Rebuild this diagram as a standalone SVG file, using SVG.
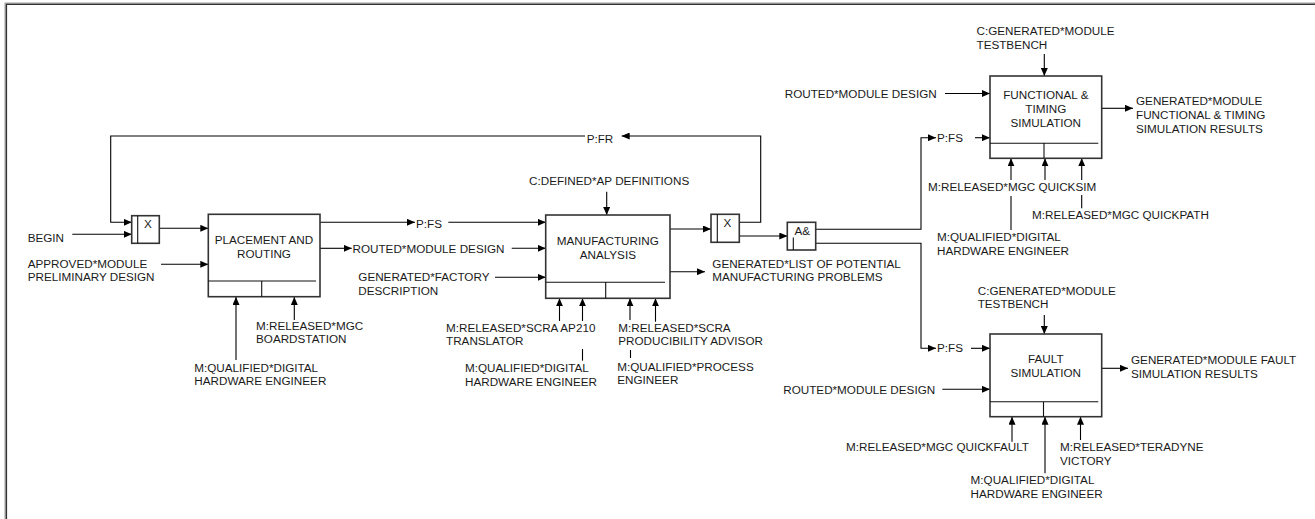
<svg xmlns="http://www.w3.org/2000/svg" width="1315" height="519" viewBox="0 0 1315 519">
<defs>
<marker id="ah" markerWidth="8" markerHeight="7" refX="8" refY="3.5" orient="auto" markerUnits="userSpaceOnUse">
<path d="M0,0 L8,3.5 L0,7 z" fill="#000"/>
</marker>
<style>
text{font-family:"Liberation Sans",Arial,sans-serif;font-size:11.7px;fill:#1a1a1a}
.c{text-anchor:middle}
.box{fill:#fff;stroke:#333;stroke-width:1.6}
.in{fill:none;stroke:#111;stroke-width:1.1}
.cn{fill:none;stroke:#000;stroke-width:1.1}
.ar{marker-end:url(#ah)}
</style>
</defs>
<rect width="1315" height="519" fill="#fff"/>
<g id="frame">
<path d="M4.8,519 V2.8 H1315" fill="none" stroke="#bbb" stroke-width="1"/>
<path d="M6.3,519 V4.3 H1315" fill="none" stroke="#333" stroke-width="1.6"/>
</g>

<g id="connectors">
<path class="cn ar" d="M739.3,222.3 H760.7 V136 H621.7"/>
<path class="cn ar" d="M585,136 H110.7 V222.3 H131.7"/>
<path class="cn ar" d="M72.3,234.3 H131.7"/>
<path class="cn ar" d="M159.3,228.3 H208.3"/>
<path class="cn ar" d="M161,264.3 H208.3"/>
<path class="cn ar" d="M236,360 V297"/>
<path class="cn ar" d="M294.3,320 V297"/>
<path class="cn ar" d="M320,222.3 H415"/>
<path class="cn ar" d="M448.3,222.3 H545.7"/>
<path class="cn ar" d="M320,248.3 H351.7"/>
<path class="cn ar" d="M511.7,248.3 H545.7"/>
<path class="cn ar" d="M495,277.3 H545.7"/>
<path class="cn ar" d="M606.7,191.7 V215"/>
<path class="cn ar" d="M559.5,321 V298.3"/>
<path class="cn ar" d="M582.5,321 V298.3"/>
<path class="cn" d="M582.5,349 V360.7"/>
<path class="cn ar" d="M630,320 V298.3"/>
<path class="cn" d="M630.5,350 V358"/>
<path class="cn ar" d="M655.5,321.7 V298.3"/>
<path class="cn ar" d="M670,229 H711"/>
<path class="cn ar" d="M670,271.7 H705"/>
<path class="cn ar" d="M739.3,236 H787.3"/>
<path class="cn ar" d="M815.7,229.3 H921 V137.7 H936"/>
<path class="cn ar" d="M975,137.7 H990"/>
<path class="cn ar" d="M815.7,243.3 H921 V348.3 H936"/>
<path class="cn ar" d="M971,348.3 H990"/>
<path class="cn ar" d="M945,93.5 H990"/>
<path class="cn ar" d="M1044.3,54 V76"/>
<path class="cn ar" d="M1101.7,108.3 H1133"/>
<path class="cn ar" d="M1011,180 V158.3"/>
<path class="cn" d="M1011,196 V230"/>
<path class="cn ar" d="M1045,180 V158.3"/>
<path class="cn ar" d="M1081.7,180 V158.3"/>
<path class="cn" d="M1081.7,195 V208.3"/>
<path class="cn ar" d="M1044.3,315 V334"/>
<path class="cn ar" d="M942.3,389.3 H990"/>
<path class="cn ar" d="M1101.7,368.3 H1128"/>
<path class="cn ar" d="M1012,441.7 V416.7"/>
<path class="cn ar" d="M1045,473.3 V416.7"/>
<path class="cn ar" d="M1080.5,440 V416.7"/>
</g>

<g id="junction-x1">
<rect class="box" x="131.7" y="215.7" width="27.6" height="27.6"/>
<path class="in" d="M137.7,215.7 V243.3"/>
<text class="c" x="148" y="227.5">X</text>
</g>

<g id="node-placement">
<rect class="box" x="208.3" y="214.3" width="111.7" height="82.4"/>
<path class="in" d="M208.3,281 H316 M261.7,281 V296.7"/>
<text class="c" x="264" y="244">PLACEMENT AND</text>
<text class="c" x="264" y="258">ROUTING</text>
</g>

<g id="node-manufacturing">
<rect class="box" x="545.7" y="215" width="124.3" height="83.3"/>
<path class="in" d="M545.7,282.3 H665 M605.7,282.3 V298.3"/>
<text class="c" x="607.8" y="244.5">MANUFACTURING</text>
<text class="c" x="607.8" y="258.5">ANALYSIS</text>
</g>

<g id="junction-x2">
<rect class="box" x="711" y="214.3" width="28.3" height="28"/>
<path class="in" d="M717.3,214.3 V242.3"/>
<text class="c" x="727.5" y="227">X</text>
</g>

<g id="junction-and">
<rect class="box" x="787.3" y="222.3" width="28.4" height="27.7"/>
<path class="in" d="M793.3,237.5 V250"/>
<text x="794.5" y="235">A&amp;</text>
</g>

<g id="node-functional">
<rect class="box" x="990" y="76" width="111.7" height="82.3"/>
<path class="in" d="M990,143.3 H1098.3 M1044,143.3 V158.3"/>
<text class="c" x="1045.8" y="98.5">FUNCTIONAL &amp;</text>
<text class="c" x="1045.8" y="112.5">TIMING</text>
<text class="c" x="1045.8" y="126.5">SIMULATION</text>
</g>

<g id="node-fault">
<rect class="box" x="990" y="334" width="111.7" height="82.7"/>
<path class="in" d="M990,401.7 H1098.3 M1043.5,401.7 V416.7"/>
<text class="c" x="1045.8" y="363">FAULT</text>
<text class="c" x="1045.8" y="377">SIMULATION</text>
</g>

<g id="labels">
<text x="27.7" y="241.5">BEGIN</text>
<text x="27.7" y="267.5">APPROVED*MODULE</text>
<text x="27.7" y="280.5">PRELIMINARY DESIGN</text>
<text x="256" y="330">M:RELEASED*MGC</text>
<text x="256" y="343">BOARDSTATION</text>
<text x="194.3" y="371.5">M:QUALIFIED*DIGITAL</text>
<text x="194.3" y="385">HARDWARE ENGINEER</text>
<text x="416" y="228.3">P:FS</text>
<text x="352.5" y="253.3">ROUTED*MODULE DESIGN</text>
<text x="358.3" y="281">GENERATED*FACTORY</text>
<text x="358.3" y="295">DESCRIPTION</text>
<text x="529" y="185.3">C:DEFINED*AP DEFINITIONS</text>
<text x="586.7" y="142.5">P:FR</text>
<text x="446" y="331.5">M:RELEASED*SCRA AP210</text>
<text x="446" y="344.5">TRANSLATOR</text>
<text x="465" y="372">M:QUALIFIED*DIGITAL</text>
<text x="465" y="385.5">HARDWARE ENGINEER</text>
<text x="618.3" y="331.5">M:RELEASED*SCRA</text>
<text x="618.3" y="344.5">PRODUCIBILITY ADVISOR</text>
<text x="617.3" y="370.5">M:QUALIFIED*PROCESS</text>
<text x="617.3" y="384">ENGINEER</text>
<text x="712.3" y="268">GENERATED*LIST OF POTENTIAL</text>
<text x="712.3" y="281">MANUFACTURING PROBLEMS</text>
<text x="976.5" y="35">C:GENERATED*MODULE</text>
<text x="976.5" y="49">TESTBENCH</text>
<text x="936.7" y="97.5" style="text-anchor:end">ROUTED*MODULE DESIGN</text>
<text x="937" y="142">P:FS</text>
<text x="1136" y="104.5">GENERATED*MODULE</text>
<text x="1136" y="118.5">FUNCTIONAL &amp; TIMING</text>
<text x="1136" y="132.5">SIMULATION RESULTS</text>
<text x="928" y="191">M:RELEASED*MGC QUICKSIM</text>
<text x="1032" y="219">M:RELEASED*MGC QUICKPATH</text>
<text x="937" y="241">M:QUALIFIED*DIGITAL</text>
<text x="937" y="254.5">HARDWARE ENGINEER</text>
<text x="977.7" y="294.5">C:GENERATED*MODULE</text>
<text x="977.7" y="308">TESTBENCH</text>
<text x="937" y="351.5">P:FS</text>
<text x="935.2" y="394" style="text-anchor:end">ROUTED*MODULE DESIGN</text>
<text x="1131" y="363.5">GENERATED*MODULE FAULT</text>
<text x="1131" y="377.5">SIMULATION RESULTS</text>
<text x="846" y="451">M:RELEASED*MGC QUICKFAULT</text>
<text x="1060" y="451">M:RELEASED*TERADYNE</text>
<text x="1060" y="465">VICTORY</text>
<text x="970.6" y="484">M:QUALIFIED*DIGITAL</text>
<text x="970.6" y="497.5">HARDWARE ENGINEER</text>
</g>
</svg>
